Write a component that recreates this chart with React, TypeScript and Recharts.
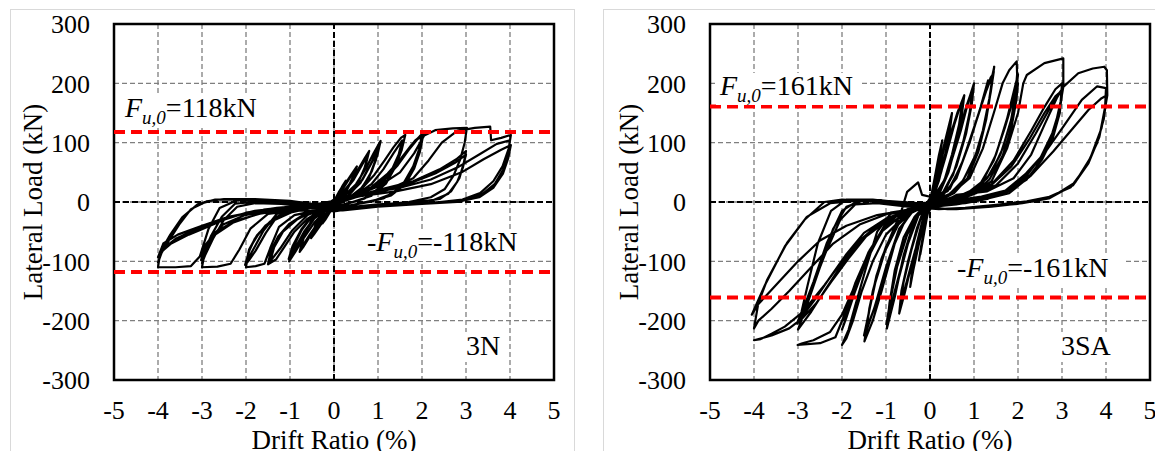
import React from "react";
import {
  LineChart,
  Line,
  XAxis,
  YAxis,
  CartesianGrid,
  ReferenceLine,
  ReferenceArea,
} from "recharts";

type Pt = [number, number];

const FONT = "Liberation Serif, Times New Roman, serif";

const xTicks = [-5, -4, -3, -2, -1, 0, 1, 2, 3, 4, 5];
const yTicks = [-300, -200, -100, 0, 100, 200, 300];

const fu3N = 118;
const fu3SA = 161;

// ---- specimen 3N, drift (%) vs lateral load (kN), by drift level ----
const n3_025: Pt[] = [
  [0, 0], [0.1, 14], [0.2, 28], [0.27, 36], [0.2, 22], [0.1, 6], [0, -6], [-0.1, -18], [-0.2, -30], [-0.26, -36],
  [-0.19, -22], [-0.08, -6], [0.02, 4], [0.12, 18], [0.25, 33], [0.17, 18], [0.05, 2], [-0.08, -14], [-0.24, -32],
  [-0.15, -16], [-0.03, 0],
];
const n3_05: Pt[] = [
  [0.1, 12], [0.25, 30], [0.4, 47], [0.52, 60], [0.43, 42], [0.3, 22], [0.15, 6], [0, -8], [-0.15, -22], [-0.3, -38],
  [-0.45, -54], [-0.52, -61], [-0.43, -40], [-0.3, -20], [-0.15, -5], [0, 4], [0.15, 16], [0.32, 36], [0.48, 55],
  [0.4, 36], [0.25, 14], [0.08, 0], [-0.1, -14], [-0.3, -35], [-0.48, -56], [-0.38, -32], [-0.2, -10], [-0.02, 3],
];
const n3_075: Pt[] = [
  [0.15, 12], [0.35, 30], [0.55, 55], [0.7, 74], [0.8, 86], [0.72, 62], [0.57, 36], [0.36, 13], [0.1, -2], [-0.1, -15],
  [-0.35, -36], [-0.55, -58], [-0.7, -76], [-0.78, -84], [-0.7, -60], [-0.52, -32], [-0.3, -11], [-0.05, 2],
  [0.2, 14], [0.45, 38], [0.65, 64], [0.78, 80], [0.68, 54], [0.5, 26], [0.25, 6], [0, -6], [-0.3, -28], [-0.55, -55],
  [-0.75, -78], [-0.66, -52], [-0.45, -24], [-0.2, -6], [0.05, 4],
];
const n3_1: Pt[] = [
  [0.25, 12], [0.5, 30], [0.72, 56], [0.9, 82], [1.06, 103], [0.99, 80], [0.86, 52], [0.65, 25], [0.35, 8], [0.05, -5],
  [-0.2, -15], [-0.45, -35], [-0.7, -62], [-0.88, -84], [-1.02, -100], [-0.93, -78], [-0.76, -50], [-0.5, -24],
  [-0.2, -8], [0.05, 3], [0.3, 10], [0.6, 32], [0.85, 66], [1.02, 94], [0.95, 70], [0.8, 42], [0.55, 16], [0.2, 0],
  [-0.15, -10], [-0.45, -28], [-0.72, -58], [-0.92, -86], [-1.0, -97], [-0.9, -72], [-0.7, -42], [-0.42, -18],
  [-0.12, -4], [0.1, 4], [0.35, 12], [0.65, 38], [0.9, 72], [1.04, 98], [0.96, 74], [0.82, 46], [0.6, 20], [0.25, 2],
  [-0.1, -8], [-0.4, -22], [-0.68, -50], [-0.9, -80], [-1.03, -96], [-0.94, -74], [-0.74, -46], [-0.46, -20],
  [-0.15, -5], [0.1, 3],
];
const n3_15: Pt[] = [
  [0.35, 8], [0.65, 24], [0.92, 46], [1.15, 70], [1.35, 92], [1.52, 108], [1.62, 113], [1.54, 88], [1.4, 60],
  [1.18, 31], [0.84, 10], [0.42, 0], [0, -8], [-0.3, -14], [-0.6, -28], [-0.9, -50], [-1.15, -78], [-1.32, -97],
  [-1.5, -105], [-1.44, -84], [-1.27, -58], [-1.02, -37], [-0.62, -18], [-0.2, -5], [0.12, 4], [0.5, 12], [0.85, 30],
  [1.12, 55], [1.35, 82], [1.55, 104], [1.47, 80], [1.3, 52], [1.05, 25], [0.7, 6], [0.25, -4], [-0.2, -10],
  [-0.6, -22], [-0.95, -48], [-1.22, -78], [-1.45, -100], [-1.36, -76], [-1.16, -50], [-0.85, -30], [-0.45, -14],
  [0, -3],
];
const n3_2: Pt[] = [
  [0.45, 10], [0.85, 25], [1.22, 48], [1.52, 73], [1.76, 96], [1.95, 111], [2.03, 116], [1.97, 95], [1.86, 68],
  [1.69, 42], [1.46, 21], [1.12, 6], [0.62, -2], [0.1, -10], [-0.4, -14], [-0.9, -22], [-1.25, -42], [-1.45, -78],
  [-1.58, -104], [-1.78, -108], [-2.0, -110], [-1.95, -86], [-1.8, -62], [-1.56, -40], [-1.22, -22], [-0.72, -12],
  [-0.2, -5], [0.2, 5], [0.6, 14], [1.0, 30], [1.35, 55], [1.62, 82], [1.85, 104], [2.0, 113], [1.93, 88], [1.8, 60],
  [1.6, 34], [1.32, 14], [0.9, 2], [0.4, -5], [-0.1, -12], [-0.6, -10], [-1.0, -12], [-1.3, -25], [-1.55, -52],
  [-1.78, -82], [-1.95, -100], [-2.0, -104], [-1.93, -80], [-1.75, -56], [-1.45, -33], [-1.0, -18], [-0.4, -8],
  [0.1, 2], [0.7, 16], [1.1, 34], [1.45, 62], [1.7, 88], [1.9, 106], [2.02, 110], [1.95, 84], [1.82, 56], [1.62, 30],
  [1.3, 11], [0.8, 0], [0.2, -8], [-0.4, -6], [-0.9, -8], [-1.3, -20], [-1.6, -48], [-1.82, -78], [-1.97, -98],
  [-2.02, -106], [-1.9, -76], [-1.7, -52], [-1.4, -32], [-0.95, -17], [-0.35, -6], [0.1, 2],
];
const n3_3: Pt[] = [
  [0.6, 14], [1.05, 28], [1.5, 50], [1.82, 82], [2.05, 112], [2.3, 121], [2.7, 124], [3.02, 125], [2.97, 100],
  [2.87, 72], [2.72, 45], [2.52, 22], [2.2, 8], [1.7, 0], [1.0, -5], [0.3, -12], [-0.3, -15], [-0.9, -14], [-1.5, -20],
  [-1.9, -45], [-2.15, -80], [-2.35, -104], [-2.65, -109], [-3.0, -110], [-2.94, -86], [-2.8, -60], [-2.52, -38],
  [-2.02, -22], [-1.32, -12], [-0.52, -6], [0.1, 0], [0.5, 10], [1.0, 20], [1.8, 35], [2.4, 55], [2.78, 72], [3.0, 86],
  [2.95, 66], [2.85, 40], [2.66, 18], [2.4, 5], [1.8, -1], [1.0, -4], [0.2, -10], [-0.5, -6], [-1.2, -3], [-1.8, -2],
  [-2.2, -8], [-2.5, -30], [-2.75, -62], [-2.93, -90], [-3.0, -103], [-2.9, -76], [-2.7, -55], [-2.3, -35],
  [-1.72, -20], [-1.0, -12], [-0.3, -5], [0.2, 3], [0.8, 14], [1.6, 28], [2.3, 48], [2.75, 66], [3.0, 80], [2.93, 58],
  [2.8, 34], [2.6, 14], [2.25, 3], [1.5, -2], [0.6, -7], [-0.2, -8], [-1.0, -1], [-1.7, 1], [-2.25, -3], [-2.55, -25],
  [-2.8, -58], [-2.96, -86], [-3.02, -98], [-2.92, -72], [-2.68, -50], [-2.25, -32], [-1.6, -18], [-0.8, -10], [0, -4],
];
const n3_4: Pt[] = [
  [0.5, 8], [1.2, 20], [1.8, 40], [2.15, 70], [2.45, 100], [2.8, 120], [3.2, 125], [3.55, 127], [3.57, 104],
  [3.8, 108], [4.02, 113], [3.97, 90], [3.83, 60], [3.62, 35], [3.32, 15], [2.92, 4], [2.3, -1], [1.5, -3], [0.5, -10],
  [0, -16], [-0.5, -10], [-1.0, -5], [-1.6, 0], [-2.2, 3], [-2.6, -10], [-2.85, -45], [-3.05, -92], [-3.25, -108],
  [-3.6, -110], [-4.0, -110], [-3.95, -86], [-3.7, -70], [-3.3, -55], [-3.0, -46], [-2.5, -30], [-2.0, -18],
  [-1.3, -10], [-0.5, -5], [0.2, 5], [0.8, 15], [1.5, 24], [2.2, 38], [2.8, 58], [3.3, 80], [3.7, 98], [4.0, 104],
  [3.95, 80], [3.85, 55], [3.65, 30], [3.35, 12], [2.9, 2], [2.2, -2], [1.2, -6], [0.3, -12], [-0.3, -5], [-1.0, 2],
  [-1.8, 5], [-2.5, 5], [-2.9, 1], [-3.25, -12], [-3.52, -38], [-3.76, -66], [-3.92, -86], [-4.0, -102], [-3.9, -80],
  [-3.6, -62], [-3.1, -45], [-2.5, -28], [-1.8, -15], [-1.0, -8], [-0.2, -2], [0.6, 10], [1.4, 18], [2.2, 30],
  [2.9, 50], [3.4, 72], [3.8, 88], [4.02, 96], [3.96, 74], [3.84, 48], [3.62, 24], [3.3, 8], [2.8, 0], [2.0, -3],
  [1.0, -8], [0.2, -14], [-0.5, -6], [-1.3, 1], [-2.1, 4], [-2.7, 4], [-3.1, -4], [-3.45, -26], [-3.72, -55],
  [-3.9, -78], [-4.0, -93], [-3.88, -70], [-3.55, -55], [-3.0, -40], [-2.4, -25], [-1.6, -13], [-0.8, -6], [0, -2],
];

// ---- specimen 3SA ----
const sa_025: Pt[] = [
  [0, 0], [0.1, 38], [0.2, 78], [0.28, 104], [0.22, 78], [0.12, 38], [0.02, 4], [-0.08, -30], [-0.18, -68],
  [-0.25, -98], [-0.2, -74], [-0.1, -34], [0, -2], [0.12, 45], [0.26, 98], [0.18, 64], [0.06, 18], [-0.06, -22],
  [-0.22, -88], [-0.14, -50], [-0.02, -6],
];
const sa_05: Pt[] = [
  [0.1, 30], [0.25, 75], [0.4, 120], [0.5, 150], [0.45, 120], [0.35, 80], [0.2, 35], [0.05, 5], [-0.1, -25],
  [-0.25, -70], [-0.38, -115], [-0.45, -143], [-0.4, -110], [-0.3, -70], [-0.15, -25], [0, 5], [0.15, 38], [0.32, 90],
  [0.47, 138], [0.4, 100], [0.26, 52], [0.1, 12], [-0.08, -18], [-0.22, -60], [-0.36, -105], [-0.43, -132],
  [-0.34, -90], [-0.2, -40], [-0.05, -4],
];
const sa_075: Pt[] = [
  [0.15, 25], [0.35, 75], [0.55, 130], [0.7, 165], [0.78, 180], [0.72, 145], [0.6, 100], [0.42, 50], [0.2, 12],
  [0, -10], [-0.2, -45], [-0.4, -100], [-0.58, -155], [-0.7, -188], [-0.65, -150], [-0.5, -100], [-0.3, -45],
  [-0.1, -5], [0.05, 12], [0.25, 55], [0.45, 110], [0.62, 150], [0.74, 172], [0.66, 130], [0.5, 80], [0.3, 30],
  [0.1, 0], [-0.12, -28], [-0.35, -85], [-0.55, -140], [-0.68, -176], [-0.6, -135], [-0.42, -80], [-0.22, -30], [0, 0],
];
const sa_1: Pt[] = [
  [0.2, 15], [0.45, 60], [0.7, 120], [0.88, 172], [1.0, 200], [0.95, 165], [0.82, 115], [0.6, 60], [0.35, 20],
  [0.1, 5], [-0.15, -5], [-0.35, -30], [-0.6, -90], [-0.8, -160], [-0.98, -213], [-0.92, -170], [-0.8, -115],
  [-0.6, -60], [-0.35, -25], [-0.1, -5], [0.1, 8], [0.3, 30], [0.55, 85], [0.78, 145], [0.97, 192], [0.9, 150],
  [0.75, 100], [0.52, 45], [0.25, 10], [0, -5], [-0.25, -20], [-0.5, -70], [-0.75, -140], [-0.95, -200], [-0.88, -155],
  [-0.72, -100], [-0.5, -50], [-0.25, -18], [0, -2], [0.35, 40], [0.6, 100], [0.82, 160], [0.99, 196], [0.92, 158],
  [0.78, 108], [0.55, 52], [0.28, 14], [0, -4], [-0.3, -25], [-0.55, -80], [-0.8, -150], [-0.99, -206], [-0.9, -165],
  [-0.75, -110], [-0.52, -55], [-0.28, -20], [0, -2],
];
const sa_15: Pt[] = [
  [0.3, 12], [0.6, 40], [0.9, 100], [1.15, 160], [1.32, 205], [1.38, 200], [1.46, 228], [1.4, 195], [1.28, 140],
  [1.1, 85], [0.85, 40], [0.55, 15], [0.2, 2], [-0.2, -5], [-0.5, -20], [-0.8, -70], [-1.1, -150], [-1.3, -200],
  [-1.49, -235], [-1.42, -200], [-1.3, -150], [-1.1, -95], [-0.85, -50], [-0.65, -15], [-0.52, 17], [-0.27, 33],
  [-0.18, 12], [0.05, 8], [0.4, 18], [0.7, 60], [0.98, 120], [1.2, 170], [1.38, 210], [1.43, 215], [1.35, 175],
  [1.2, 120], [1.0, 70], [0.7, 30], [0.35, 8], [0, -5], [-0.35, -12], [-0.7, -45], [-1.0, -110], [-1.25, -175],
  [-1.45, -218], [-1.38, -180], [-1.22, -125], [-1.0, -75], [-0.7, -35], [-0.35, -12], [0, 0], [0.45, 22], [0.75, 70],
  [1.02, 130], [1.25, 182], [1.45, 220], [1.38, 185], [1.24, 130], [1.04, 80], [0.75, 36], [0.4, 10], [0, -4],
  [-0.35, -10], [-0.72, -50], [-1.02, -118], [-1.28, -182], [-1.5, -225], [-1.4, -190], [-1.24, -135], [-1.02, -82],
  [-0.72, -38], [-0.35, -12], [0, 0],
];
const sa_2: Pt[] = [
  [0.5, 15], [0.9, 40], [1.2, 90], [1.45, 150], [1.65, 200], [1.8, 222], [1.97, 237], [1.98, 215], [1.95, 189],
  [1.85, 140], [1.65, 90], [1.4, 50], [1.05, 20], [0.6, 5], [0.1, -5], [-0.4, -12], [-0.9, -20], [-1.2, -50],
  [-1.45, -110], [-1.7, -175], [-1.85, -215], [-2.0, -241], [-1.9, -230], [-1.75, -200], [-1.55, -150], [-1.3, -100],
  [-1.0, -55], [-0.6, -25], [-0.2, -10], [0.3, 2], [0.8, 12], [1.2, 35], [1.5, 80], [1.75, 140], [1.9, 185],
  [2.0, 215], [1.95, 180], [1.82, 130], [1.6, 80], [1.3, 40], [0.9, 15], [0.3, 0], [-0.3, -8], [-0.7, -18],
  [-1.05, -42], [-1.4, -90], [-1.7, -150], [-1.9, -195], [-2.0, -215], [-1.88, -190], [-1.7, -150], [-1.45, -100],
  [-1.1, -50], [-0.6, -20], [0, -5], [0.6, 8], [1.1, 25], [1.45, 70], [1.7, 125], [1.88, 170], [2.0, 200],
  [1.96, 170], [1.85, 125], [1.65, 78], [1.35, 38], [0.95, 12], [0.4, -2], [-0.2, -10], [-0.6, -14], [-1.0, -35],
  [-1.35, -80], [-1.65, -140], [-1.85, -180], [-1.95, -200], [-1.85, -175], [-1.65, -135], [-1.4, -90],
  [-1.05, -45], [-0.55, -18], [0.05, -4],
];
const sa_3: Pt[] = [
  [0.5, 8], [1.0, 15], [1.4, 35], [1.75, 90], [2.0, 150], [2.12, 200], [2.2, 214], [2.6, 234], [3.03, 242],
  [3.03, 194], [2.94, 155], [2.78, 116], [2.52, 76], [2.18, 43], [1.76, 20], [1.17, 9], [0.5, 2], [-0.1, -4],
  [-0.4, -8], [-0.69, -19], [-1.03, -42], [-1.37, -81], [-1.7, -137], [-1.96, -193], [-2.15, -228], [-2.5, -238],
  [-3.01, -241], [-2.9, -238], [-2.65, -233], [-2.27, -219], [-2.0, -190], [-1.7, -140], [-1.4, -85], [-1.0, -40],
  [-0.5, -18], [0, -8], [0.8, 10], [1.4, 30], [1.9, 70], [2.3, 120], [2.6, 160], [2.85, 190], [3.0, 200], [2.97, 170],
  [2.85, 130], [2.65, 90], [2.35, 50], [1.9, 22], [1.3, 10], [0.5, 0], [-0.3, -2], [-1.0, 2], [-1.5, 3], [-1.9, -8],
  [-2.2, -45], [-2.5, -110], [-2.78, -170], [-3.0, -215], [-2.9, -205], [-2.7, -185], [-2.4, -150], [-2.0, -105],
  [-1.6, -65], [-1.1, -33], [-0.5, -15], [0.1, -5], [0.9, 12], [1.5, 28], [2.0, 65], [2.4, 115], [2.7, 155],
  [2.9, 180], [3.02, 192], [2.96, 160], [2.82, 120], [2.6, 82], [2.3, 45], [1.85, 20], [1.2, 8], [0.4, -2],
  [-0.4, -3], [-1.1, 3], [-1.6, 4], [-2.0, -15], [-2.35, -70], [-2.65, -135], [-2.88, -180], [-3.0, -200],
  [-2.88, -190], [-2.65, -168], [-2.3, -130], [-1.9, -88], [-1.5, -52], [-1.0, -28], [-0.4, -12], [0.2, -4],
  [0.7, 5], [1.3, 22], [1.85, 60], [2.25, 105], [2.6, 150], [2.85, 178], [3.0, 188], [2.95, 150], [2.8, 110],
  [2.55, 72], [2.2, 38], [1.7, 15], [1.0, 4], [0.2, -4], [-0.6, -2], [-1.3, 4], [-1.9, 4], [-2.25, -15],
  [-2.55, -70], [-2.78, -140], [-2.92, -185], [-3.02, -205], [-2.9, -196], [-2.6, -172], [-2.25, -135],
  [-1.85, -95], [-1.45, -58], [-0.95, -30], [-0.35, -12], [0.2, -4],
];
const sa_4: Pt[] = [
  [0.6, 12], [1.3, 18], [1.9, 40], [2.3, 80], [2.6, 130], [2.88, 175], [3.03, 194], [3.37, 217], [3.7, 225],
  [3.96, 228], [4.02, 222], [4.03, 180], [3.9, 125], [3.65, 75], [3.3, 33], [2.8, 10], [2.2, 1], [1.5, -5],
  [0.8, -10], [0.2, -12], [-0.5, -8], [-1.2, -2], [-1.7, -4], [-2.04, -30], [-2.38, -87], [-2.7, -148],
  [-2.97, -200], [-3.2, -213], [-3.6, -225], [-4.0, -233], [-3.85, -231], [-3.6, -222], [-3.3, -210], [-2.9, -186],
  [-2.4, -140], [-2.0, -100], [-1.5, -60], [-1.0, -30], [-0.4, -12], [0.2, -5], [0.8, -2], [1.3, 5], [1.68, 17],
  [2.18, 48], [2.6, 82], [3.03, 127], [3.45, 172], [3.8, 195], [4.0, 192], [3.98, 160], [3.85, 110], [3.6, 65],
  [3.25, 28], [2.7, 6], [2.1, -2], [1.4, -8], [0.6, -12], [-0.2, -10], [-0.8, -2], [-1.5, 3], [-2.27, -2],
  [-2.8, -25], [-3.25, -69], [-3.7, -131], [-3.9, -170], [-4.0, -213], [-3.9, -200], [-3.6, -180], [-3.2, -150],
  [-2.7, -110], [-2.2, -70], [-1.6, -38], [-0.9, -18], [-0.2, -10], [0.6, -4], [1.2, 4], [1.8, 15], [2.3, 45],
  [2.8, 85], [3.2, 120], [3.6, 155], [3.9, 175], [4.02, 180], [3.95, 140], [3.8, 100], [3.55, 60], [3.2, 25],
  [2.6, 5], [2.0, -3], [1.2, -8], [0.4, -12], [-0.4, -6], [-1.2, 1], [-2.0, 4], [-2.4, 0], [-2.85, -30],
  [-3.3, -75], [-3.75, -140], [-4.05, -190], [-3.9, -172], [-3.5, -140], [-3.0, -100], [-2.5, -65], [-1.9, -40],
  [-1.2, -22], [-0.4, -12], [0, -8],
];

const toRows = (groups: Pt[][]) => groups.flat().map(([x, y]) => ({ x, y }));
const data3N = toRows([n3_025, n3_05, n3_075, n3_1, n3_15, n3_2, n3_3, n3_4]);
const data3SA = toRows([sa_025, sa_05, sa_075, sa_1, sa_15, sa_2, sa_3, sa_4]);

function ForceLabel(props: any) {
  const { viewBox, value, neg, dx, dy, boxW } = props;
  const x = viewBox.x + dx;
  const y = viewBox.y + dy;
  return (
    <g>
      <rect x={x - 4} y={y - 22} width={boxW} height={32} fill="#fff" />
      <text x={x} y={y} style={{ fontFamily: FONT }} fontSize={28} fill="#000">
        {neg ? <tspan>-</tspan> : null}
        <tspan fontStyle="italic">F</tspan>
        <tspan fontStyle="italic" fontSize={19} dy={7}>u,0</tspan>
        <tspan dy={-7}>{`=${neg ? "-" : ""}${value}kN`}</tspan>
      </text>
    </g>
  );
}

function NameLabel(props: any) {
  const { viewBox, value, dx, dy, boxW } = props;
  const x = viewBox.x + dx;
  const y = viewBox.y + dy;
  return (
    <g>
      <rect x={x - 4} y={y - 23} width={boxW} height={30} fill="#fff" />
      <text x={x} y={y} style={{ fontFamily: FONT }} fontSize={28} fill="#000">{value}</text>
    </g>
  );
}

function XTitle(props: any) {
  const { viewBox } = props;
  return (
    <text x={viewBox.x + viewBox.width / 2} y={viewBox.y + 69} textAnchor="middle" style={{ fontFamily: FONT }} fontSize={27} fill="#000">
      Drift Ratio (%)
    </text>
  );
}

function YTitle(props: any) {
  const { viewBox } = props;
  const cx = viewBox.x + viewBox.width - 81;
  const cy = viewBox.y + viewBox.height / 2;
  return (
    <text x={cx} y={cy} dy="0.35em" transform={`rotate(-90 ${cx} ${cy})`} textAnchor="middle" style={{ fontFamily: FONT }} fontSize={27} fill="#000">
      Lateral Load (kN)
    </text>
  );
}

const tickStyle = { fontSize: 26, fill: "#000", fontFamily: FONT, style: { fontFamily: FONT } };

function Panel(props: {
  data: { x: number; y: number }[];
  fu: number;
  name: string;
  width: number;
  margin: { top: number; right: number; bottom: number; left: number };
  posLabel: { dx: number; dy: number; boxW: number };
  negLabel: { dx: number; dy: number; boxW: number };
  nameLabel: { dx: number; dy: number; boxW: number };
}) {
  const { data, fu, name, width, margin, posLabel, negLabel, nameLabel } = props;
  return (
    <LineChart width={width} height={459} data={data} margin={margin} style={{ fontFamily: FONT }}>
      <CartesianGrid stroke="#7f7f7f" strokeDasharray="5 3" strokeWidth={1.3} />
      <XAxis
        type="number"
        dataKey="x"
        domain={[-5, 5]}
        ticks={xTicks}
        interval={0}
        allowDataOverflow
        tickLine={false}
        axisLine={false}
        tickSize={0}
        tickMargin={21}
        tick={tickStyle}
        label={<XTitle />}
      />
      <YAxis
        type="number"
        domain={[-300, 300]}
        ticks={yTicks}
        interval={0}
        allowDataOverflow
        width={60}
        tickLine={false}
        axisLine={false}
        tickSize={0}
        tickMargin={24}
        tick={tickStyle}
        label={<YTitle />}
      />
      <ReferenceLine x={0} stroke="#000" strokeWidth={2} strokeDasharray="6 3" />
      <ReferenceLine y={0} stroke="#000" strokeWidth={2} strokeDasharray="6 3" />
      <Line
        type="linear"
        dataKey="y"
        stroke="#000"
        strokeWidth={2.2}
        strokeLinejoin="round"
        dot={false}
        activeDot={false}
        isAnimationActive={false}
      />
      <ReferenceLine
        y={fu}
        stroke="#ff0000"
        strokeWidth={4}
        strokeDasharray="11 6"
        label={<ForceLabel value={fu} {...posLabel} />}
      />
      <ReferenceLine
        y={-fu}
        stroke="#ff0000"
        strokeWidth={4}
        strokeDasharray="11 6"
        label={<ForceLabel value={fu} neg {...negLabel} />}
      />
      <ReferenceArea
        x1={-5}
        x2={5}
        y1={-300}
        y2={300}
        fill="none"
        stroke="#000"
        strokeWidth={2.5}
        label={<NameLabel value={name} {...nameLabel} />}
      />
    </LineChart>
  );
}

export default function App() {
  return (
    <div style={{ position: "relative", width: 1163, height: 459, margin: -8, overflow: "hidden", background: "#fff", fontFamily: FONT }}>
      <div style={{ position: "absolute", left: 10, top: 9, width: 565, height: 470, border: "1.5px solid #d9d9d9", boxSizing: "border-box" }} />
      <div style={{ position: "absolute", left: 603, top: 9, width: 600, height: 470, border: "1.5px solid #d9d9d9", boxSizing: "border-box" }} />
      <div style={{ position: "absolute", left: 0, top: 0 }}>
        <Panel
          data={data3N}
          fu={fu3N}
          name="3N"
          width={580}
          margin={{ top: 24, right: 26, bottom: 49, left: 54 }}
          posLabel={{ dx: 11, dy: -15, boxW: 145 }}
          negLabel={{ dx: 253, dy: -21, boxW: 170 }}
          nameLabel={{ dx: 352, dy: 331, boxW: 44 }}
        />
      </div>
      <div style={{ position: "absolute", left: 590, top: 0 }}>
        <Panel
          data={data3SA}
          fu={fu3SA}
          name="3SA"
          width={573}
          margin={{ top: 24, right: 13, bottom: 49, left: 60 }}
          posLabel={{ dx: 10, dy: -11.5, boxW: 145 }}
          negLabel={{ dx: 247, dy: -20.5, boxW: 170 }}
          nameLabel={{ dx: 351, dy: 331, boxW: 58 }}
        />
      </div>
    </div>
  );
}
